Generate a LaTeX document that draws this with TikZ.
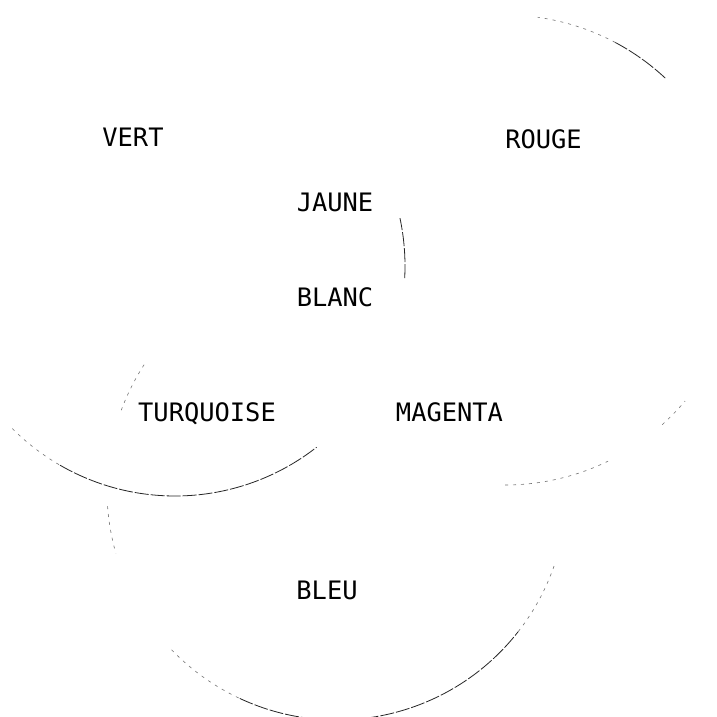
\documentclass[tikz,border=0pt]{standalone}
\usepackage{fontspec}
\newfontfamily\plotfont{DejaVu Sans Mono}
\begin{document}
\begin{tikzpicture}[x=1pt,y=1pt,
  lbl/.style={font=\plotfont\fontsize{25.4}{30}\selectfont, inner sep=0pt, anchor=base, text=black},
  arcmain/.style={draw=black!85, line width=0.8pt, dash pattern=on 14pt off 2pt},
  arcfaint/.style={draw=black!55, line width=0.6pt, dash pattern=on 3pt off 5pt}]
\fill[white] (0,0) rectangle (717,717);
\useasboundingbox (0,0) rectangle (717,717);
\begin{scope}
\clip (0,0) rectangle (717,717);
% circle centres
\coordinate (G) at (175,451);
\coordinate (R) at (505,467);
\coordinate (B) at (337,227);
% green circle visible fragments
\draw[arcfaint] (G) ++(225:230) arc[start angle=225, end angle=240, radius=230];
\draw[arcmain]  (G) ++(240:230) arc[start angle=240, end angle=308, radius=230];
\draw[arcmain]  (G) ++(-3:230) arc[start angle=-3, end angle=12, radius=230];
% red circle visible fragments
\draw[arcfaint] (R) ++(62:235) arc[start angle=62, end angle=82, radius=235];
\draw[arcmain]  (R) ++(47:235) arc[start angle=47, end angle=62, radius=235];
\draw[arcfaint] (R) ++(-48:235) arc[start angle=-48, end angle=-40, radius=235];
\draw[arcfaint] (R) ++(-90:235) arc[start angle=-90, end angle=-64, radius=235];
% blue circle visible fragments
\draw[arcfaint] (B) ++(147:230) arc[start angle=147, end angle=160, radius=230];
\draw[arcfaint] (B) ++(184:230) arc[start angle=184, end angle=196, radius=230];
\draw[arcfaint] (B) ++(224:230) arc[start angle=224, end angle=245, radius=230];
\draw[arcmain]  (B) ++(245:230) arc[start angle=245, end angle=322, radius=230];
\draw[arcfaint] (B) ++(322:230) arc[start angle=322, end angle=341, radius=230];
\end{scope}
% labels
\node[lbl] (vert)  at (133,570) {VERT};
\node[lbl] (rouge) at (543.5,568) {ROUGE};
\node[lbl] (jaune) at (335,505) {JAUNE};
\node[lbl] (blanc) at (335,410) {BLANC};
\node[lbl] (turq)  at (207,295) {TURQUOISE};
\node[lbl] (mag)   at (449.5,295) {MAGENTA};
\node[lbl] (bleu)  at (327,117) {BLEU};
\end{tikzpicture}
\end{document}
